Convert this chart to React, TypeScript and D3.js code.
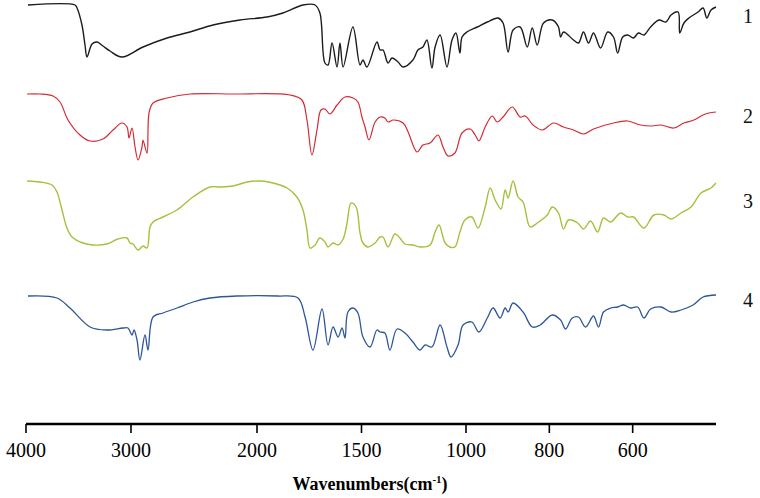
import React from "react";
import * as d3 from "d3";

const W = 760;
const H = 498;

// x axis: wavenumbers (split scale)
const xBreaks = [4000, 3000, 2000, 1000, 400];
const tickValues = [4000, 3000, 2000, 1500, 1000, 800, 600];
const seriesLabels = ["1", "2", "3", "4"];
const seriesColors = ["#1c1c1c", "#d42a36", "#a2c23c", "#2d5698"];
const seriesWidths = [1.4, 1.2, 1.4, 1.3];

// [wavenumber, offset transmittance]
const spectrum1: [number, number][] = [
  [3981, 419], [3533, 419], [3514, 416], [3467, 399], [3438, 379], [3419, 367], [3371, 380], [3324, 382],
  [3267, 378], [3200, 373], [3086, 367], [2905, 377], [2714, 386], [2532, 392], [2349, 399], [2135, 404],
  [1952, 407], [1876, 411], [1780, 419], [1722, 419], [1699, 411], [1675, 361], [1660, 359], [1641, 381],
  [1617, 357], [1603, 381], [1588, 357], [1541, 397], [1507, 359], [1493, 364], [1474, 357], [1426, 382],
  [1411, 374], [1397, 374], [1373, 361], [1354, 366], [1325, 362], [1301, 357], [1254, 364], [1230, 374],
  [1206, 377], [1187, 384], [1163, 356], [1148, 377], [1124, 389], [1091, 357], [1067, 384], [1048, 391],
  [1029, 371], [1019, 387], [998, 392], [973, 397], [949, 402], [923, 406], [911, 401], [899, 372],
  [887, 394], [870, 397], [853, 377], [841, 396], [829, 379], [814, 401], [793, 404], [778, 397],
  [773, 387], [766, 392], [742, 384], [730, 381], [718, 392], [706, 381], [694, 391], [677, 376],
  [660, 392], [646, 387], [636, 371], [624, 387], [612, 389], [598, 386], [586, 391], [573, 389],
  [557, 397], [537, 404], [520, 402], [508, 409], [491, 412], [487, 391], [477, 401], [465, 406],
  [443, 412], [431, 416], [422, 406], [412, 414], [400, 417],
];

const spectrum2: [number, number][] = [
  [3990, 330], [3867, 330], [3743, 328], [3676, 322], [3600, 304], [3486, 289], [3390, 283], [3267, 285],
  [3171, 294], [3086, 301], [3038, 297], [3019, 286], [2992, 296], [2968, 277], [2944, 264], [2913, 277],
  [2905, 284], [2873, 271], [2857, 311], [2825, 321], [2714, 326], [2532, 330], [2190, 330], [1842, 329],
  [1785, 324], [1761, 304], [1737, 269], [1713, 294], [1694, 314], [1675, 315], [1651, 310], [1617, 319],
  [1579, 327], [1541, 326], [1517, 322], [1498, 307], [1483, 297], [1464, 284], [1435, 302], [1411, 307],
  [1388, 306], [1373, 302], [1349, 304], [1301, 301], [1277, 292], [1234, 272], [1206, 279], [1172, 281],
  [1134, 289], [1110, 277], [1086, 268], [1053, 271], [1019, 291], [990, 295], [978, 289], [969, 283],
  [954, 297], [937, 308], [925, 302], [911, 307], [889, 317], [870, 307], [858, 308], [839, 299],
  [817, 294], [790, 301], [766, 297], [742, 294], [718, 290], [694, 295], [646, 301], [612, 303],
  [581, 299], [557, 298], [532, 299], [501, 296], [477, 301], [453, 304], [431, 309], [417, 311], [400, 312],
];

const spectrum3: [number, number][] = [
  [3990, 243], [3867, 242], [3752, 239], [3705, 232], [3657, 214], [3610, 196], [3562, 187], [3457, 181],
  [3362, 179], [3229, 180], [3124, 185], [3038, 186], [3010, 181], [2984, 180], [2944, 174], [2905, 178],
  [2873, 176], [2849, 197], [2825, 202], [2746, 207], [2635, 214], [2508, 227], [2373, 237], [2294, 237],
  [2190, 238], [2079, 242], [1986, 243], [1923, 241], [1856, 236], [1809, 227], [1780, 214], [1761, 194],
  [1746, 176], [1722, 179], [1699, 186], [1675, 182], [1660, 177], [1636, 181], [1612, 179], [1588, 185],
  [1569, 201], [1550, 221], [1526, 217], [1507, 191], [1493, 181], [1469, 177], [1435, 181], [1411, 187],
  [1397, 187], [1373, 177], [1340, 190], [1316, 186], [1292, 180], [1254, 179], [1220, 177], [1172, 179],
  [1148, 192], [1129, 199], [1100, 181], [1077, 177], [1053, 177], [1029, 192], [1005, 204], [986, 207],
  [971, 196], [954, 217], [942, 236], [930, 224], [916, 215], [906, 234], [899, 226], [887, 243],
  [875, 227], [863, 222], [846, 197], [829, 201], [805, 209], [793, 217], [778, 211], [766, 195],
  [754, 204], [732, 201], [718, 195], [701, 203], [684, 192], [670, 206], [653, 202], [629, 211],
  [612, 207], [598, 207], [573, 196], [549, 209], [525, 209], [508, 205], [484, 211], [460, 217],
  [436, 231], [412, 236], [400, 241],
];

const spectrum4: [number, number][] = [
  [3981, 128], [3705, 126], [3581, 116], [3390, 97], [3229, 94], [3076, 96], [3029, 96], [2992, 89],
  [2976, 94], [2952, 84], [2929, 64], [2889, 89], [2865, 74], [2825, 107], [2746, 111], [2635, 116],
  [2508, 122], [2373, 126], [2159, 128], [1900, 128], [1804, 126], [1770, 107], [1732, 74], [1689, 115],
  [1660, 79], [1636, 97], [1612, 87], [1593, 96], [1579, 86], [1565, 112], [1541, 116], [1517, 111],
  [1493, 87], [1459, 77], [1426, 94], [1411, 92], [1388, 91], [1364, 74], [1330, 95], [1292, 91],
  [1254, 82], [1220, 74], [1196, 79], [1163, 77], [1124, 99], [1091, 77], [1072, 67], [1038, 79],
  [1014, 99], [986, 102], [969, 92], [949, 106], [935, 116], [918, 106], [906, 116], [899, 112],
  [887, 121], [863, 112], [841, 97], [822, 99], [793, 109], [773, 104], [761, 95], [745, 106],
  [730, 107], [713, 97], [694, 108], [682, 97], [670, 112], [653, 116], [636, 117], [622, 119],
  [605, 116], [588, 117], [573, 106], [557, 115], [532, 117], [508, 112], [484, 114], [455, 119],
  [431, 127], [400, 129],
];

const allSpectra = [spectrum1, spectrum2, spectrum3, spectrum4];

export default function App() {
  const x = d3.scaleLinear().domain(xBreaks).range([26, 131, 257, 466, 716]);
  const y = d3.scaleLinear().domain([0, 420]).range([424, 4]);
  const line = d3
    .line<[number, number]>()
    .x((d) => x(d[0]))
    .y((d) => y(d[1]))
    .curve(d3.curveCatmullRom.alpha(0.5));

  const axisY = y(0);
  const labelY = [y(401), y(301), y(216), y(117)];

  return (
    <div style={{ position: "absolute", left: 0, top: 0 }}>
      <svg width={W} height={H} style={{ display: "block", background: "#fff" }}>
        {allSpectra.map((s, i) => (
          <path
            key={i}
            d={line(s) || ""}
            fill="none"
            stroke={seriesColors[i]}
            strokeWidth={seriesWidths[i]}
            strokeLinejoin="round"
          />
        ))}
        {seriesLabels.map((l, i) => (
          <text
            key={l}
            x={748}
            y={labelY[i]}
            textAnchor="middle"
            fontFamily="'Liberation Serif', 'Times New Roman', serif"
            fontSize={20}
            fill="#111"
          >
            {l}
          </text>
        ))}
        <line x1={x(4000)} x2={x(400)} y1={axisY} y2={axisY} stroke="#000" strokeWidth={2.6} />
        {tickValues.map((t) => (
          <g key={t}>
            <line x1={x(t)} x2={x(t)} y1={axisY} y2={axisY + 9} stroke="#000" strokeWidth={1.6} />
            <text
              x={x(t)}
              y={457}
              textAnchor="middle"
              fontFamily="'Liberation Serif', 'Times New Roman', serif"
              fontSize={20}
              fill="#000"
            >
              {t}
            </text>
          </g>
        ))}
        <text
          x={370}
          y={490}
          textAnchor="middle"
          fontFamily="'Liberation Serif', 'Times New Roman', serif"
          fontSize={18}
          fontWeight="bold"
          fill="#000"
        >
          Wavenumbers(cm
          <tspan fontSize={11} dy={-7}>-1</tspan>
          <tspan dy={7}>)</tspan>
        </text>
      </svg>
    </div>
  );
}
